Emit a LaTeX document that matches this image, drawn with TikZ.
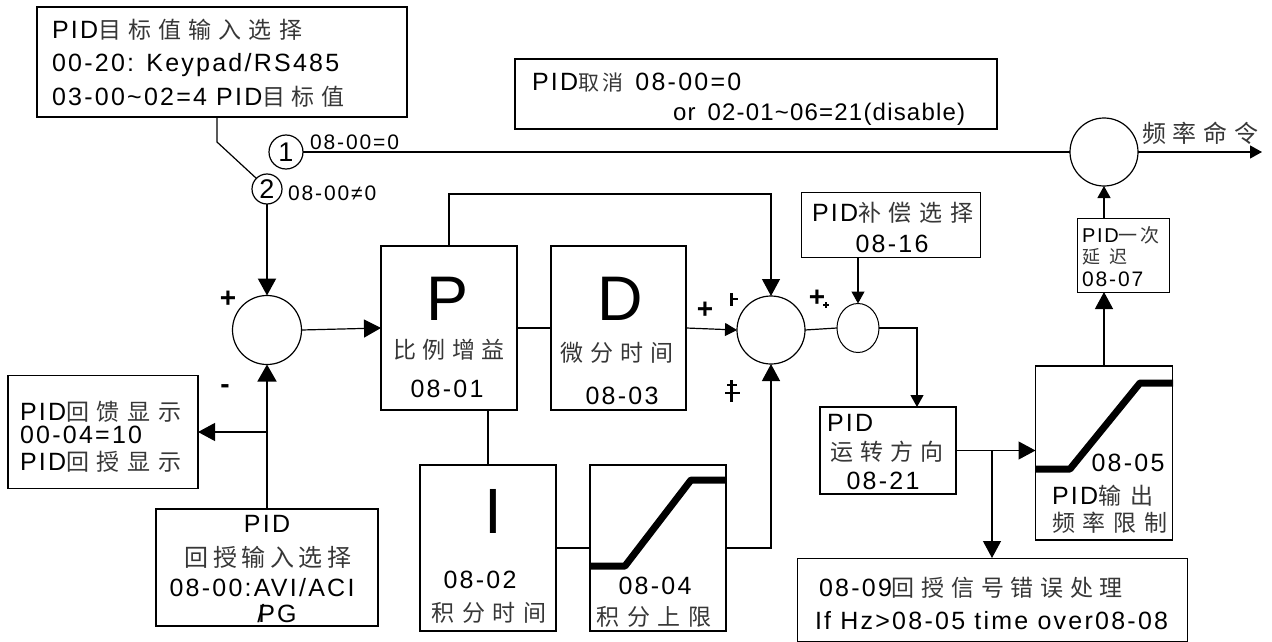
\documentclass[tikz,border=0pt]{standalone}
\usepackage{fontspec}
\setmainfont{Liberation Sans}[LetterSpace=9]
\newfontfamily\zhfont{Noto Sans CJK SC}
\usetikzlibrary{arrows.meta,shapes.geometric}
\definecolor{zhc}{RGB}{55,55,55}
\newcommand\zw[3][23]{{\color{zhc}\zhfont\fontsize{#1}{#1}\selectfont\makebox[#2][s]{#3}}}
\begin{document}
\begin{tikzpicture}[x=1pt,y=-1pt,
  every node/.style={font=\fontsize{25}{28}\selectfont},
  bx/.style={draw, line width=1.2pt, inner sep=0pt, outer sep=0pt, rectangle},
  cir/.style={draw, line width=1.2pt, circle, inner sep=0pt, outer sep=0pt},
  tx/.style={inner sep=0pt, outer sep=0pt},
  ln/.style={line width=1.2pt},
  arr/.style={ln, -{Triangle[length=17pt,width=18pt]}},
  sarr/.style={ln, -{Triangle[length=12pt,width=13pt]}},
  thk/.style={line width=7pt, line join=bevel},
  sgn/.style={font=\fontsize{28}{28}\selectfont\bfseries, inner sep=0pt}
]
\fill[white] (0,0) rectangle (1272,642);
\useasboundingbox (0,0) rectangle (1272,642);

% boxes
\node[bx, minimum width=370pt, minimum height=110pt] (tgt) at (222,62) {};
\node[bx, minimum width=482pt, minimum height=70pt] (cancel) at (756,94) {};
\node[cir, minimum size=34pt, font=\fontsize{27}{27}\selectfont] (c1) at (286,152) {1};
\node[cir, minimum size=30pt, font=\fontsize{27}{27}\selectfont] (c2) at (267,189) {2};
\node[cir, minimum size=68pt] (out) at (1104,152) {};
\node[cir, minimum size=69pt] (sum1) at (267,330) {};
\node[bx, minimum width=136pt, minimum height=164pt] (P) at (449,328) {};
\node[bx, minimum width=135pt, minimum height=164pt] (D) at (618.5,328) {};
\node[cir, minimum size=68pt] (sum2) at (771,330) {};
\node[bx, minimum width=136pt, minimum height=166pt] (I) at (488,548) {};
\node[bx, minimum width=136pt, minimum height=166pt] (lim) at (658,548) {};
\node[draw, ellipse, line width=1pt, minimum width=42pt, minimum height=49pt, inner sep=0pt, outer sep=0pt] (cmp) at (858,328) {};
\node[bx, line width=1pt, minimum width=179pt, minimum height=65pt] (cmpbox) at (890.5,224.5) {};
\node[bx, minimum width=136pt, minimum height=87pt] (dir) at (888,450.5) {};
\node[bx, minimum width=137pt, minimum height=174pt] (lim2) at (1104,453) {};
\node[bx, line width=1pt, minimum width=92pt, minimum height=74pt] (delay) at (1123,255) {};
\node[bx, line width=1pt, minimum width=390pt, minimum height=83pt] (err) at (992,599.5) {};
\node[bx, minimum width=222pt, minimum height=117pt] (fb) at (267,567.5) {};
\node[bx, minimum width=190pt, minimum height=113pt] (disp) at (103,432) {};

\coordinate (tk) at (217,142);
\coordinate (fout) at (1262,152);
\coordinate (ytop) at (600,194);
\coordinate (dtop) at (917,407);

% connectors
\draw[ln] (tgt.south -| tk) -- (tk) -- (c2.135);
\draw[ln] (c1.east) -- (out.west);
\draw[sarr] (out.east) -- (fout);
\draw[line width=2.2pt, -{Triangle[length=17pt,width=18pt]}] (c2.south) -- (sum1.north);
\draw[arr] (sum1.east) -- (P.west);
\draw[ln] (P.east) -- (D.west);
\draw[sarr] (D.east) -- (sum2.west);
\draw[arr] (P.north) -- (P.north |- ytop) -- (sum2.north |- ytop) -- (sum2.north);
\draw[ln] (I.north |- P.south) -- (I.north);
\draw[ln] (I.east) -- (lim.west);
\draw[arr] (lim.east) -| (sum2.south);
\draw[ln] (sum2.east) -- (cmp.west);
\draw[sarr] (cmp.north |- cmpbox.south) -- (cmp.north);
\draw[sarr] (cmp.east) -| (dtop);
\draw[arr] (dir.east) -- (dir.east -| lim2.west);
\draw[arr] (err.north |- dir.east) -- (err.north);
\draw[arr] (lim2.north) -- (lim2.north |- delay.south);
\draw[sarr] (lim2.north |- delay.north) -- (out.south);
\draw[line width=1.5pt, -{Triangle[length=17pt,width=19pt]}] (fb.north) -- (sum1.south);
\draw[arr] (fb.north |- disp.east) -- (disp.east);

% limiter curves
\draw[thk] (590,566) -- (625,566) -- (691,480) -- (726,480);
\draw[thk] (1036,469) -- (1070,469) -- (1140,383) -- (1173,383);

% texts
\node[tx, anchor=base west] (t1) at (52,39) {PID\zw{204pt}{目 标 值 输 入 选 择}};
\node[tx, anchor=base west] (t2) at (52,72) {00-20: Keypad/RS485};
\node[tx, anchor=base west] (t3) at (52,106) {03-00\textasciitilde02=4 PID\zw{82pt}{目 标 值}};
\node[tx, anchor=base west] (k1) at (532,91) {PID\zw[21]{42pt}{取 消}\hspace{6pt} 08-00=0};
\node[tx, anchor=base west, font=\fontsize{24}{28}\selectfont\addfontfeature{LetterSpace=5}] (k2) at (673,121) {or\hspace{12pt}02-01\textasciitilde06=21(disable)};
\node[tx, anchor=base west, font=\fontsize{21}{21}\selectfont] (l1) at (310,149) {08-00=0};
\node[tx, anchor=base west, font=\fontsize{21}{21}\selectfont] (l2) at (288,200) {08-00≠0};
\node[tx, anchor=base west] (fc) at (1142,142) {\zw[24]{116pt}{频 率 命 令}};

\node[tx, anchor=base, font=\fontsize{63}{63}\selectfont] (Pl) at (448,320) {P};
\node[tx, anchor=base] (Pz) at (449,358) {\zw{112pt}{比 例 增 益}};
\node[tx, anchor=base] (Pn) at (447,397) {08-01};
\node[tx, anchor=base, font=\fontsize{63}{63}\selectfont] (Dl) at (620,320) {D};
\node[tx, anchor=base] (Dz) at (617,361) {\zw{113pt}{微 分 时 间}};
\node[tx, anchor=base] (Dn) at (622,404) {08-03};
\node[tx, anchor=base, font=\fontsize{64}{64}\selectfont] (Il) at (493,533) {I};
\node[tx, anchor=base] (In) at (480,588) {08-02};
\node[tx, anchor=base] (Iz) at (489,621) {\zw{115pt}{积 分 时 间}};
\node[tx, anchor=base] (Ln) at (655,594) {08-04};
\node[tx, anchor=base] (Lz) at (654,625) {\zw{115pt}{积 分 上 限}};
\node[tx, anchor=base west] (cb1) at (812,221) {PID\zw{115pt}{补 偿 选 择}};
\node[tx, anchor=base] (cb2) at (892,252) {08-16};
\node[tx, anchor=base west] (dr1) at (827,431) {PID};
\node[tx, anchor=base] (dr2) at (887,460) {\zw{113pt}{运 转 方 向}};
\node[tx, anchor=base] (dr3) at (883,489) {08-21};
\node[tx, anchor=base] (m1) at (1128,471) {08-05};
\node[tx, anchor=base west] (m2) at (1052,504) {PID\zw{55pt}{输 出}};
\node[tx, anchor=base west] (m3) at (1052,531) {\zw{115pt}{频 率 限 制}};
\node[tx, anchor=base west, font=\fontsize{20}{20}\selectfont] (y1) at (1082,242) {PID\zw[19]{41pt}{一 次}};
\node[tx, anchor=base west] (y2) at (1082,263) {\zw[18]{45pt}{延 迟}};
\node[tx, anchor=base west, font=\fontsize{21}{21}\selectfont] (y3) at (1082,286) {08-07};
\node[tx, anchor=base west] (e1) at (819,596) {08-09\zw{231pt}{回 授 信 号 错 误 处 理}};
\node[tx, anchor=base west] (e2) at (815,629) {If Hz>08-05 time over08-08};
\node[tx, anchor=base] (f1) at (267,532) {PID};
\node[tx, anchor=base] (f2) at (268,566) {\zw[24]{167pt}{回 授 输 入 选 择}};
\node[tx, anchor=base] (f3) at (262,596) {08-00:AVI/ACI};
\node[tx, anchor=base] (f4) at (277,622) {/\kern-6pt PG};
\node[tx, anchor=base west] (d1) at (20,420) {PID\zw{115pt}{回 馈 显 示}};
\node[tx, anchor=base west] (d2) at (20,443) {00-04=10};
\node[tx, anchor=base west] (d3) at (20,470) {PID\zw{115pt}{回 授 显 示}};

% signs
\node[sgn] (s1) at (228,299) {+};
\node[sgn] (s2) at (225,389) {-};
\node[sgn] (s3) at (705,310) {+};
\node[sgn] (s4) at (817,298) {+};
\draw[line width=3pt] (731.5,293) -- (731.5,306);
\draw[line width=2pt] (731.5,299) -- (738,299);
\draw[line width=1.2pt] (823,305) -- (829,305) (826,302) -- (826,308);
\draw[line width=3pt] (731.5,380) -- (731.5,402);
\draw[line width=2.5pt] (727,385) -- (737,385) (725,393) -- (740,393);
\end{tikzpicture}
\end{document}
